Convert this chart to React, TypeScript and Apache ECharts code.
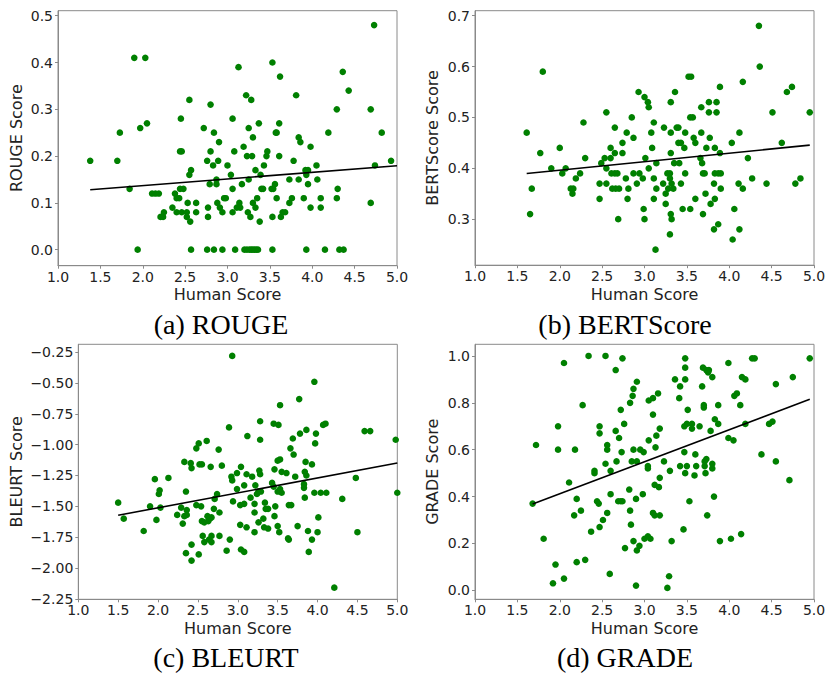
import React, { useEffect, useRef } from "react";
import * as echarts from "echarts";

// ---- data ----
const rougePoints: number[][] = [
  [1.38,0.19],[1.70,0.19],[1.73,0.25],[1.845,0.13],[1.90,0.41],[1.94,0.00],[1.97,0.26],[2.03,0.41],[2.05,0.27],
  [2.11,0.12],[2.15,0.12],[2.19,0.12],[2.21,0.07],[2.24,0.07],[2.25,0.08],[2.35,0.09],[2.38,0.12],[2.40,0.11],
  [2.43,0.11],[2.40,0.08],[2.44,0.21],[2.46,0.21],[2.45,0.28],[2.44,0.13],[2.48,0.13],[2.46,0.08],[2.52,0.08],
  [2.53,0.10],[2.52,0.07],[2.56,0.06],[2.55,0.16],[2.57,0.17],[2.55,0.32],[2.57,0.00],[2.63,0.10],[2.63,0.08],
  [2.72,0.26],[2.76,0.19],[2.77,0.09],[2.77,0.07],[2.76,0.00],[2.80,0.31],[2.80,0.21],[2.79,0.14],[2.83,0.18],
  [2.84,0.25],[2.84,0.00],[2.87,0.15],[2.87,0.14],[2.88,0.10],[2.89,0.19],[2.90,0.23],[2.91,0.09],[2.94,0.08],
  [2.94,0.00],[2.96,0.11],[2.98,0.11],[3.00,0.18],[3.04,0.16],[3.06,0.28],[3.06,0.13],[3.06,0.08],[3.08,0.21],
  [3.09,0.00],[3.11,0.09],[3.14,0.10],[3.15,0.09],[3.13,0.39],[3.17,0.14],[3.19,0.22],[3.20,0.00],[3.23,0.00],
  [3.26,0.00],[3.28,0.00],[3.30,0.00],[3.32,0.00],[3.34,0.00],[3.36,0.00],[3.22,0.33],[3.23,0.20],[3.25,0.26],
  [3.25,0.15],[3.24,0.08],[3.27,0.07],[3.28,0.32],[3.30,0.24],[3.29,0.20],[3.30,0.10],[3.33,0.17],[3.33,0.09],
  [3.35,0.11],[3.37,0.27],[3.38,0.06],[3.39,0.16],[3.40,0.13],[3.42,0.13],[3.43,0.18],[3.46,0.20],[3.47,0.21],
  [3.53,0.40],[3.52,0.13],[3.54,0.13],[3.56,0.14],[3.53,0.07],[3.53,0.00],[3.57,0.25],[3.58,0.25],[3.58,0.11],
  [3.62,0.37],[3.61,0.27],[3.61,0.20],[3.63,0.07],[3.65,0.08],[3.68,0.08],[3.73,0.15],[3.73,0.10],[3.76,0.11],
  [3.78,0.19],[3.81,0.33],[3.84,0.24],[3.86,0.23],[3.84,0.15],[3.90,0.11],[3.92,0.17],[3.95,0.17],[3.93,0.16],
  [3.93,0.00],[3.95,0.14],[3.98,0.22],[3.98,0.09],[4.05,0.18],[4.06,0.15],[4.10,0.11],[4.10,0.09],[4.15,0.00],
  [4.19,0.25],[4.29,0.30],[4.30,0.13],[4.29,0.11],[4.32,0.00],[4.37,0.00],[4.36,0.38],[4.43,0.34],[4.69,0.30],
  [4.69,0.10],[4.73,0.48],[4.74,0.18],[4.82,0.25],[4.93,0.19],
];

const bertPoints: number[][] = [
  [1.61,0.47],[1.65,0.31],[1.67,0.36],[1.77,0.43],[1.80,0.59],[1.90,0.40],[2.00,0.44],[2.03,0.39],[2.07,0.40],
  [2.13,0.36],[2.16,0.36],[2.15,0.35],[2.19,0.38],[2.24,0.39],[2.28,0.49],[2.30,0.42],[2.47,0.34],[2.47,0.37],
  [2.49,0.41],[2.53,0.42],[2.55,0.37],[2.55,0.51],[2.55,0.40],[2.60,0.44],[2.60,0.42],[2.61,0.39],[2.62,0.36],
  [2.65,0.48],[2.65,0.43],[2.65,0.39],[2.68,0.39],[2.66,0.36],[2.69,0.30],[2.70,0.36],[2.74,0.43],[2.74,0.45],
  [2.79,0.47],[2.78,0.38],[2.81,0.36],[2.80,0.34],[2.85,0.50],[2.87,0.46],[2.87,0.39],[2.91,0.37],[2.93,0.55],
  [2.94,0.39],[2.98,0.38],[2.99,0.32],[3.00,0.54],[3.00,0.30],[3.01,0.42],[3.04,0.53],[3.05,0.52],[3.05,0.40],
  [3.08,0.47],[3.09,0.44],[3.11,0.49],[3.11,0.38],[3.11,0.34],[3.14,0.41],[3.14,0.36],[3.13,0.24],[3.23,0.48],
  [3.22,0.37],[3.25,0.35],[3.25,0.33],[3.27,0.39],[3.28,0.36],[3.30,0.39],[3.30,0.38],[3.31,0.43],[3.31,0.53],
  [3.31,0.47],[3.32,0.37],[3.31,0.31],[3.32,0.30],[3.30,0.27],[3.34,0.36],[3.35,0.41],[3.36,0.55],[3.38,0.48],
  [3.40,0.48],[3.40,0.45],[3.43,0.45],[3.41,0.41],[3.43,0.37],[3.45,0.32],[3.47,0.44],[3.48,0.47],[3.48,0.39],
  [3.52,0.58],[3.55,0.58],[3.54,0.50],[3.57,0.50],[3.54,0.32],[3.58,0.46],[3.60,0.45],[3.60,0.34],[3.67,0.52],
  [3.67,0.47],[3.66,0.42],[3.68,0.41],[3.69,0.39],[3.71,0.39],[3.69,0.31],[3.72,0.35],[3.73,0.44],[3.76,0.53],
  [3.76,0.51],[3.77,0.46],[3.78,0.33],[3.83,0.44],[3.83,0.39],[3.82,0.37],[3.83,0.34],[3.82,0.28],[3.85,0.53],
  [3.85,0.51],[3.87,0.39],[3.90,0.39],[3.87,0.29],[3.89,0.56],[3.89,0.43],[3.90,0.36],[4.03,0.45],[4.04,0.26],
  [4.06,0.32],[4.12,0.47],[4.11,0.37],[4.12,0.28],[4.16,0.57],[4.16,0.36],[4.22,0.42],[4.27,0.38],[4.35,0.68],
  [4.36,0.60],[4.44,0.37],[4.51,0.51],[4.62,0.45],[4.68,0.55],[4.74,0.56],[4.78,0.37],[4.84,0.38],[4.95,0.51],
];

const bleurtPoints: number[][] = [
  [1.50,-1.47],[1.57,-1.60],[1.82,-1.70],[1.90,-1.50],[1.96,-1.28],[1.98,-1.61],[2.01,-1.40],[2.02,-1.37],
  [2.03,-1.51],[2.13,-1.27],[2.24,-1.57],[2.29,-1.51],[2.31,-1.64],[2.33,-1.58],[2.33,-1.14],[2.35,-1.38],
  [2.36,-1.53],[2.36,-1.57],[2.35,-1.88],[2.41,-1.15],[2.42,-1.19],[2.42,-1.81],[2.42,-1.94],[2.48,-1.03],
  [2.51,-0.99],[2.48,-1.49],[2.52,-1.16],[2.55,-1.16],[2.51,-1.89],[2.54,-1.50],[2.55,-1.62],[2.58,-1.63],
  [2.56,-1.74],[2.58,-1.79],[2.61,-0.97],[2.62,-1.58],[2.63,-1.62],[2.65,-1.60],[2.64,-1.77],[2.66,-1.18],
  [2.67,-1.59],[2.67,-1.74],[2.67,-1.79],[2.70,-1.52],[2.71,-1.44],[2.74,-1.40],[2.76,-1.04],[2.77,-1.55],
  [2.77,-1.74],[2.80,-1.17],[2.86,-1.86],[2.89,-0.86],[2.90,-1.77],[2.93,-0.28],[2.92,-1.26],[2.93,-1.29],
  [2.94,-1.46],[2.99,-1.23],[2.99,-1.36],[3.04,-1.18],[3.03,-1.49],[3.08,-1.48],[3.03,-1.65],[3.04,-1.85],
  [3.08,-1.87],[3.08,-1.33],[3.11,-1.67],[3.12,-0.93],[3.11,-1.24],[3.16,-1.43],[3.18,-1.26],[3.22,-1.33],
  [3.21,-1.48],[3.21,-1.55],[3.21,-1.71],[3.24,-1.40],[3.26,-1.38],[3.26,-1.63],[3.27,-1.21],[3.28,-1.24],
  [3.28,-0.81],[3.28,-0.96],[3.29,-1.38],[3.32,-1.60],[3.34,-1.47],[3.35,-1.52],[3.38,-1.52],[3.33,-1.67],
  [3.38,-1.68],[3.43,-1.31],[3.45,-1.34],[3.45,-0.83],[3.46,-1.20],[3.47,-1.50],[3.46,-1.58],[3.50,-1.38],
  [3.53,-1.36],[3.50,-1.13],[3.53,-1.12],[3.51,-0.84],[3.53,-0.68],[3.50,-1.66],[3.52,-1.71],[3.55,-1.22],
  [3.61,-1.23],[3.55,-1.39],[3.64,-1.49],[3.67,-1.49],[3.64,-1.77],[3.63,-1.76],[3.66,-1.03],[3.69,-0.95],
  [3.70,-1.08],[3.72,-1.26],[3.75,-1.66],[3.77,-0.63],[3.78,-0.91],[3.86,-0.88],[3.84,-1.22],[3.85,-1.14],
  [3.86,-1.25],[3.83,-1.32],[3.83,-1.35],[3.84,-1.43],[3.88,-1.70],[3.89,-1.87],[3.93,-1.16],[3.93,-1.77],
  [3.96,-0.49],[3.98,-0.91],[3.97,-0.99],[3.96,-1.39],[4.01,-1.59],[4.00,-1.71],[4.04,-1.39],[4.07,-0.84],
  [4.10,-0.83],[4.11,-1.39],[4.21,-2.16],[4.31,-1.44],[4.48,-1.27],[4.50,-1.71],[4.59,-0.89],[4.66,-0.89],
  [4.98,-0.96],[5.00,-1.39],
];

const gradePoints: number[][] = [
  [1.68,0.37],[1.72,0.62],[1.81,0.22],[1.92,0.03],[1.95,0.11],[1.98,0.70],[1.98,0.60],[2.05,0.97],[2.05,0.05],
  [2.11,0.46],[2.17,0.32],[2.18,0.60],[2.20,0.39],[2.20,0.12],[2.25,0.34],[2.27,0.79],[2.30,0.13],[2.34,1.00],
  [2.37,0.25],[2.41,0.51],[2.41,0.50],[2.44,0.38],[2.46,0.37],[2.47,0.70],[2.47,0.67],[2.47,0.27],[2.51,0.30],
  [2.54,0.54],[2.54,1.00],[2.56,0.62],[2.56,0.60],[2.56,0.33],[2.60,0.51],[2.60,0.41],[2.59,0.07],[2.66,0.94],
  [2.66,0.68],[2.67,0.55],[2.70,0.65],[2.69,0.38],[2.72,0.38],[2.74,0.38],[2.72,0.77],[2.73,0.59],[2.74,0.99],
  [2.76,0.71],[2.77,0.18],[2.82,0.43],[2.83,0.80],[2.83,0.34],[2.84,0.28],[2.85,0.55],[2.86,0.83],[2.87,0.86],
  [2.87,0.60],[2.87,0.21],[2.91,0.89],[2.91,0.55],[2.90,0.39],[2.91,0.17],[2.94,0.19],[2.90,0.02],[2.95,0.60],
  [2.99,0.59],[2.98,0.41],[3.00,0.22],[3.04,0.23],[3.07,0.22],[3.04,0.53],[3.04,0.52],[3.05,0.64],[3.05,0.81],
  [3.10,0.82],[3.10,0.75],[3.10,0.33],[3.12,0.32],[3.12,0.45],[3.13,0.61],[3.14,0.66],[3.16,0.84],[3.18,0.69],
  [3.18,0.48],[3.17,0.44],[3.18,0.32],[3.23,0.55],[3.27,0.01],[3.29,0.06],[3.30,0.51],[3.32,0.21],[3.36,0.90],
  [3.41,0.82],[3.42,0.87],[3.42,0.53],[3.46,0.26],[3.48,0.99],[3.48,0.95],[3.48,0.90],[3.47,0.70],[3.50,0.71],
  [3.47,0.59],[3.48,0.50],[3.50,0.53],[3.51,0.77],[3.53,0.38],[3.56,0.71],[3.56,0.69],[3.60,0.58],[3.59,0.49],
  [3.61,0.53],[3.65,0.70],[3.68,0.87],[3.69,0.95],[3.70,0.79],[3.70,0.78],[3.71,0.55],[3.71,0.53],[3.73,0.94],
  [3.75,0.93],[3.76,0.94],[3.73,0.56],[3.72,0.50],[3.74,0.32],[3.78,0.68],[3.80,0.91],[3.80,0.54],[3.80,0.52],
  [3.82,0.40],[3.83,0.73],[3.87,0.71],[3.87,0.79],[3.89,0.21],[3.99,0.97],[3.99,0.65],[4.05,0.64],[4.02,0.22],
  [4.06,0.83],[4.09,0.84],[4.13,0.79],[4.14,0.24],[4.15,0.91],[4.19,0.90],[4.19,0.71],[4.27,0.99],[4.30,0.99],
  [4.38,0.58],[4.47,0.71],[4.51,0.72],[4.55,0.88],[4.55,0.55],[4.71,0.47],[4.75,0.91],[4.95,0.99],
];

// fitted lines (end points)
const rougeFit: number[][] = [[1.38, 0.128], [5.0, 0.1795]];
const bertFit: number[][] = [[1.61, 0.3898], [4.95, 0.4456]];
const bleurtFit: number[][] = [[1.5, -1.5725], [5.0, -1.149]];
const gradeFit: number[][] = [[1.68, 0.368], [4.95, 0.815]];

const humanTicks = [1.0, 1.5, 2.0, 2.5, 3.0, 3.5, 4.0, 4.5, 5.0];
const rougeTicks = [0.0, 0.1, 0.2, 0.3, 0.4, 0.5];
const bertTicks = [0.3, 0.4, 0.5, 0.6, 0.7];
const bleurtTicks = [-2.25, -2.0, -1.75, -1.5, -1.25, -1.0, -0.75, -0.5, -0.25];
const gradeTicks = [0.0, 0.2, 0.4, 0.6, 0.8, 1.0];

const yNames = ["ROUGE Score", "BERTScore Score", "BLEURT Score", "GRADE Score"];
const captions = ["(a) ROUGE", "(b) BERTScore", "(c) BLEURT", "(d) GRADE"];

const FRAME = "#8a8a8a";
const TEXT = "#222222";
const GREEN = "#008000";
const FONT = "DejaVu Sans";

export default function App() {
  const ref = useRef<HTMLDivElement>(null);

  useEffect(() => {
    document.body.style.margin = "0";
    if (!ref.current) return;
    const chart = echarts.init(ref.current, undefined, { renderer: "svg" });

    const grids = [
      { left: 58, top: 10.7, width: 339, height: 255 },
      { left: 475, top: 10.7, width: 339, height: 254.5 },
      { left: 78.3, top: 344.3, width: 319, height: 255 },
      { left: 475, top: 344.3, width: 339, height: 255 },
    ];
    const yRanges = [
      [-0.0342, 0.5107],
      [0.2095, 0.7098],
      [-2.254, -0.186],
      [-0.0384, 1.0498],
    ];
    const yTickSets = [rougeTicks, bertTicks, bleurtTicks, gradeTicks];
    const yDecimals = [1, 1, 2, 1];
    const yNameGaps = [34, 34.5, 54, 34.5];
    const pointSets = [rougePoints, bertPoints, bleurtPoints, gradePoints];
    const fitSets = [rougeFit, bertFit, bleurtFit, gradeFit];

    const fmt = (v: number, d: number) => v.toFixed(d).replace("-", "\u2212");

    const option: any = {
      animation: false,
      grid: grids.map((g) => ({
        ...g,
        show: true,
        borderColor: FRAME,
        borderWidth: 1,
        backgroundColor: "transparent",
      })),
      xAxis: grids.map((_, i) => ({
        type: "value",
        gridIndex: i,
        min: 1,
        max: 5,
        interval: 0.5,
        name: "Human Score",
        nameLocation: "middle",
        nameGap: 21,
        nameTextStyle: { fontFamily: FONT, fontSize: 16, color: TEXT },
        axisLine: { show: true, onZero: false, lineStyle: { color: FRAME, width: 1 } },
        axisTick: { show: true, length: 3, lineStyle: { color: FRAME } },
        axisLabel: {
          fontFamily: FONT,
          fontSize: 14,
          color: TEXT,
          margin: 4,
          formatter: (v: number) => fmt(v, 1),
          customValues: humanTicks,
        },
        splitLine: { show: false },
      })),
      yAxis: grids.map((_, i) => ({
        type: "value",
        gridIndex: i,
        min: yRanges[i][0],
        max: yRanges[i][1],
        name: yNames[i],
        nameLocation: "middle",
        nameGap: yNameGaps[i],
        nameRotate: 90,
        nameTextStyle: { fontFamily: FONT, fontSize: 16, color: TEXT },
        axisLine: { show: true, onZero: false, lineStyle: { color: FRAME, width: 1 } },
        axisTick: { show: true, length: 3, lineStyle: { color: FRAME }, customValues: yTickSets[i] },
        axisLabel: {
          fontFamily: FONT,
          fontSize: 14,
          color: TEXT,
          margin: 5,
          formatter: (v: number) => fmt(v, yDecimals[i]),
          customValues: yTickSets[i],
        },
        splitLine: { show: false },
      })),
      series: [
        ...pointSets.map((pts, i) => ({
          type: "scatter",
          xAxisIndex: i,
          yAxisIndex: i,
          data: pts,
          symbol: "circle",
          symbolSize: 6.6,
          itemStyle: { color: GREEN, opacity: 1 },
          z: 2,
        })),
        ...fitSets.map((pts, i) => ({
          type: "line",
          xAxisIndex: i,
          yAxisIndex: i,
          data: pts,
          symbol: "none",
          lineStyle: { color: "#000000", width: 1.6 },
          z: 3,
        })),
      ],
      graphic: [
        { cx: 221, cy: 324 },
        { cx: 625, cy: 324 },
        { cx: 226, cy: 657 },
        { cx: 625, cy: 657 },
      ].map((p, i) => ({
        type: "text",
        x: p.cx,
        y: p.cy,
        style: {
          text: captions[i],
          fontFamily: "Liberation Serif",
          fontSize: 28,
          fill: "#000000",
          textAlign: "center",
          textVerticalAlign: "middle",
        },
      })),
    };

    chart.setOption(option);
    return () => chart.dispose();
  }, []);

  return <div ref={ref} style={{ width: 830, height: 679 }} />;
}
